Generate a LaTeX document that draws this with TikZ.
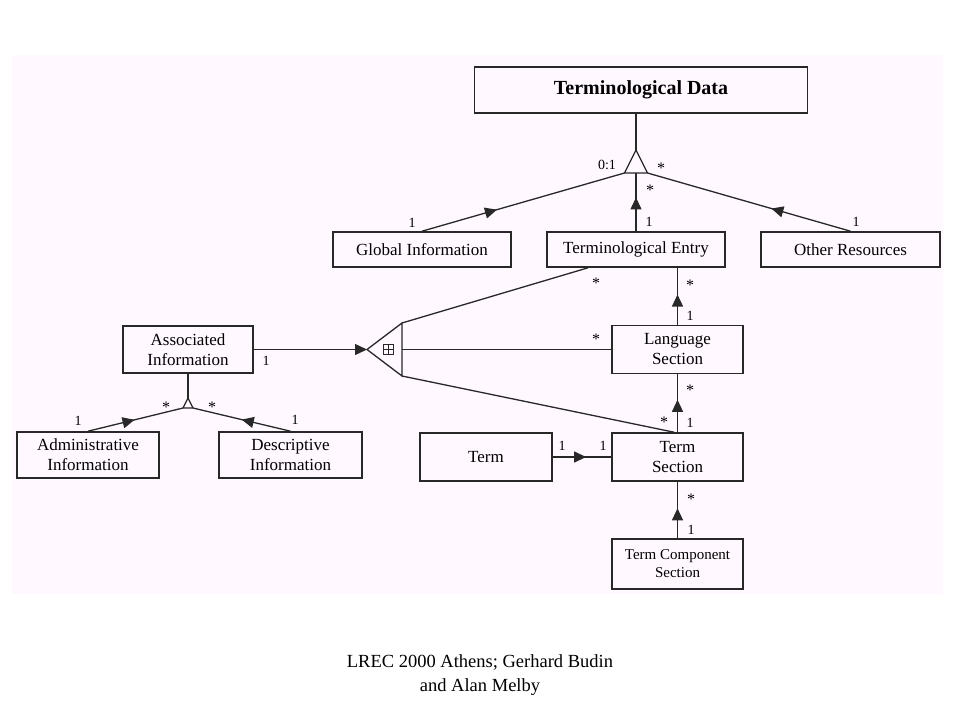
\documentclass[tikz,border=0pt]{standalone}
\usepackage{fontspec}
\setmainfont{Liberation Serif}
\usetikzlibrary{arrows.meta,decorations.markings}
\definecolor{bgpink}{RGB}{255,248,255}
\definecolor{linegray}{RGB}{40,40,40}

\begin{document}
\begin{tikzpicture}[x=1pt,y=-1pt,
    every node/.style={inner sep=0pt},
    box/.style={draw=linegray,line width=1.6pt,rectangle,align=center,
      font=\fontsize{17}{20}\selectfont},
    lbl/.style={font=\fontsize{14}{14}\selectfont},
    mult/.style={font=\fontsize{16}{16}\selectfont,yshift=-2.5pt},
    link/.style={draw=linegray,color=linegray,line width=1.3pt},
    tipat/.style={postaction={decorate},decoration={markings,
      mark=at position #1 with {\arrow{Triangle[length=12pt,width=11pt]}}}}]
    \useasboundingbox (0,0) rectangle (960,720);
    \fill[bgpink] (12,55) rectangle (943,594);

    \node[box,font=\bfseries\fontsize{20}{24}\selectfont,minimum width=333pt,minimum height=46pt] (TD) at (641,90) {Terminological Data};
    \node[box,minimum width=178pt,minimum height=35pt] (GI) at (422,249.5) {Global Information};
    \node[box,minimum width=178pt,minimum height=35pt] (TE) at (636,249.5) {Terminological Entry};
    \node[box,minimum width=179pt,minimum height=35pt] (OR) at (850.5,249.5) {Other Resources};
    \node[box,minimum width=130pt,minimum height=47pt] (AI) at (188,349.5) {Associated\\Information};
    \node[box,minimum width=142pt,minimum height=46pt] (AdI) at (88,455) {Administrative\\Information};
    \node[box,minimum width=143pt,minimum height=46pt] (DI) at (290.5,455) {Descriptive\\Information};
    \node[box,minimum width=131pt,minimum height=48pt] (LS) at (677.5,349.5) {Language\\Section};
    \node[box,minimum width=131pt,minimum height=48pt] (TS) at (677.5,457) {Term\\Section};
    \node[box,minimum width=132pt,minimum height=48pt] (T) at (486,457) {Term};
    \node[box,font=\fontsize{15}{18}\selectfont,minimum width=131pt,minimum height=50pt] (TCS) at (677.5,564) {Term Component\\Section};

    % aggregation under Terminological Data
    \coordinate (agg) at (636,150);
    \coordinate (aggL) at (624.5,173);
    \coordinate (aggR) at (647.5,173);
    \coordinate (aggB) at (636,173);
    \draw[link] (agg) -- (aggL) -- (aggR) -- cycle;
    \path[link] (agg |- TD.south) edge (agg);
    \path[link] (GI.north) edge[tipat=0.37] (aggL);
    \path[link] (TE.north) edge[tipat=0.58] (aggB);
    \path[link] (OR.north) edge[tipat=0.39] (aggR);

    \node[lbl] (l01) at (607,165) {0:1};
    \node[mult] (lTDr) at (661,166) {*};
    \node[mult] (lTDm) at (650,188) {*};
    \node[lbl] (lGI) at (412,223) {1};
    \node[lbl] (lTE) at (649,222) {1};
    \node[lbl] (lOR) at (856,222) {1};

    % sections
    \path[link] (LS.north) edge[tipat=0.53] (LS.north |- TE.south);
    \path[link] (TS.north) edge[tipat=0.56] (LS.south);
    \path[link] (TCS.north) edge[tipat=0.53] (TS.south);
    \path[link] (T.east) edge[tipat=0.57] (TS.west);

    \node[mult] (lLSa) at (690,283) {*};
    \node[lbl] (lLSb) at (690,316) {1};
    \node[mult] (lTSa) at (690,388) {*};
    \node[lbl] (lTSb) at (690,423) {1};
    \node[mult] (lTCa) at (691,497) {*};
    \node[lbl] (lTCb) at (691,530) {1};
    \node[lbl] (lTa) at (562,446) {1};
    \node[lbl] (lTb) at (603,446) {1};

    % associated information link
    \coordinate (sec) at (367,349.5);
    \coordinate (secT) at (402,323);
    \coordinate (secM) at (402,349.5);
    \coordinate (secB) at (402,376);
    \draw[link] (secT) -- (sec) -- (secB) -- cycle;
    \node[draw=linegray,line width=0.9pt,minimum size=10pt] (plus) at (388,349.5) {};
    \draw[linegray,line width=0.9pt] (plus.north) -- (plus.south) (plus.west) -- (plus.east);
    \path[link] (AI.east) edge[-{Triangle[length=12pt,width=11pt]}] (sec);
    \path[link] (secT) edge ([xshift=-48pt]TE.south);
    \path[link] (secM) edge (LS.west);
    \path[link] (secB) edge ([xshift=-3.5pt]TS.north);

    \node[lbl] (lAI) at (266,361) {1};
    \node[mult] (lTEs) at (596,281) {*};
    \node[mult] (lLSs) at (596,337) {*};
    \node[mult] (lTSs) at (664,420) {*};

    % aggregation under Associated Information
    \coordinate (sub) at (188,398);
    \coordinate (subL) at (183,408);
    \coordinate (subR) at (193,408);
    \draw[link] (sub) -- (subL) -- (subR) -- cycle;
    \path[link] (AI.south) edge (sub);
    \path[link] (AdI.north) edge[tipat=0.49] (subL);
    \path[link] (DI.north) edge[tipat=0.5] (subR);

    \node[lbl] (lAdI) at (78,421) {1};
    \node[mult] (lAdIs) at (166,405) {*};
    \node[lbl] (lDI) at (295,420) {1};
    \node[mult] (lDIs) at (212,405) {*};

    \node[font=\fontsize{18.5}{24}\selectfont,align=center] (cap) at (480,675) {LREC 2000 Athens; Gerhard Budin\\and Alan Melby};
\end{tikzpicture}
\end{document}
